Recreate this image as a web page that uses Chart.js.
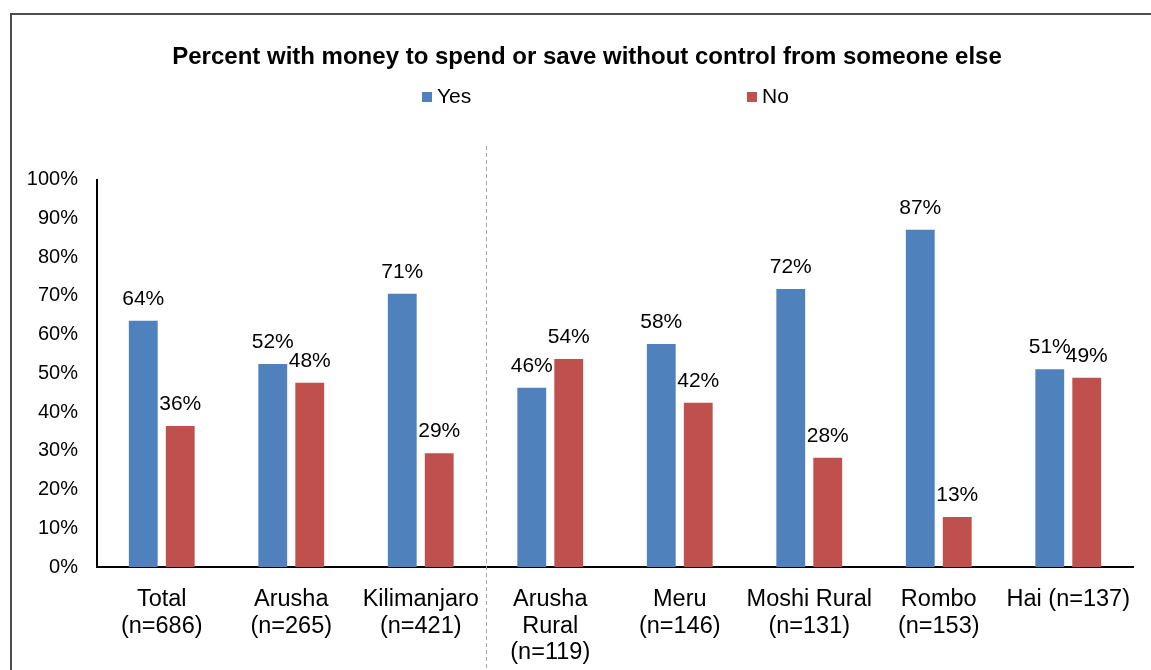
<!DOCTYPE html>
<html>
<head>
<meta charset="utf-8">
<script src="https://cdn.jsdelivr.net/npm/chart.js@4/dist/chart.umd.min.js"></script>
<style>
html,body{margin:0;padding:0;background:#fff;}
#wrap{position:relative;width:1151px;height:670px;}
</style>
</head>
<body>
<div id="wrap"><canvas id="c" width="1151" height="670"></canvas></div>
<script>
const categories = [
  ["Total", "(n=686)"],
  ["Arusha", "(n=265)"],
  ["Kilimanjaro", "(n=421)"],
  ["Arusha", "Rural", "(n=119)"],
  ["Meru", "(n=146)"],
  ["Moshi Rural", "(n=131)"],
  ["Rombo", "(n=153)"],
  ["Hai (n=137)"]
];
const yesValues = [63.6, 52.4, 70.6, 46.3, 57.6, 71.8, 87.1, 51.1];
const noValues  = [36.4, 47.6, 29.4, 53.7, 42.4, 28.2, 12.9, 48.9];
const seriesNames = ["Yes", "No"];
const yTickValues = [0, 10, 20, 30, 40, 50, 60, 70, 80, 90, 100];
const titleText = "Percent with money to spend or save without control from someone else";

const FONT = "'Liberation Sans', Arial, sans-serif";
const colors = ["#4F81BD", "#C0504D"];

const framePlugin = {
  id: 'frame',
  afterLayout(chart) {
    // Excel centres the title within the outer frame, slightly right of canvas centre
    if (chart.titleBlock) { chart.titleBlock.left = 41; chart.titleBlock.right = 1133; }
  },
  beforeDraw(chart) {
    const ctx = chart.ctx;
    ctx.save();
    ctx.strokeStyle = '#4d4d4d';
    ctx.lineWidth = 2;
    ctx.beginPath();
    ctx.moveTo(11, 670);
    ctx.lineTo(11, 14);
    ctx.lineTo(1151, 14);
    ctx.stroke();
    ctx.restore();
  }
};

const dividerPlugin = {
  id: 'divider',
  afterDatasetsDraw(chart) {
    const x = chart.scales.x;
    const px = Math.round((x.getPixelForValue(2) + x.getPixelForValue(3)) / 2) + 0.5;
    const ctx = chart.ctx;
    ctx.save();
    ctx.strokeStyle = '#a6a6a6';
    ctx.lineWidth = 1;
    ctx.setLineDash([4, 3]);
    ctx.beginPath();
    ctx.moveTo(px, 146);
    ctx.lineTo(px, 670);
    ctx.stroke();
    ctx.restore();
  }
};

const legendPlugin = {
  id: 'manualLegend',
  afterDraw(chart) {
    const ctx = chart.ctx;
    const positions = [422, 747];
    ctx.save();
    ctx.font = "21px " + FONT;
    ctx.textBaseline = 'middle';
    ctx.textAlign = 'left';
    chart.data.datasets.forEach((ds, i) => {
      const x = positions[i];
      ctx.fillStyle = ds.backgroundColor;
      ctx.fillRect(x, 92, 10, 10);
      ctx.fillStyle = '#000';
      ctx.fillText(ds.label, x + 15, 97);
    });
    ctx.restore();
  }
};

const labelPlugin = {
  id: 'valueLabels',
  afterDatasetsDraw(chart) {
    const ctx = chart.ctx;
    ctx.save();
    ctx.font = "21px " + FONT;
    ctx.fillStyle = '#000';
    ctx.textAlign = 'center';
    ctx.textBaseline = 'alphabetic';
    chart.data.datasets.forEach((ds, i) => {
      const meta = chart.getDatasetMeta(i);
      meta.data.forEach((bar, j) => {
        ctx.fillText(Math.round(ds.data[j]) + '%', bar.x, bar.y - 16);
      });
    });
    ctx.restore();
  }
};

new Chart(document.getElementById('c'), {
  type: 'bar',
  data: {
    labels: categories,
    datasets: [
      { label: seriesNames[0], data: yesValues, backgroundColor: colors[0] },
      { label: seriesNames[1], data: noValues, backgroundColor: colors[1] }
    ]
  },
  options: {
    responsive: false,
    animation: false,
    devicePixelRatio: 1,
    layout: { padding: { left: 20, right: 18, top: 0, bottom: 0 } },
    datasets: { bar: { categoryPercentage: 0.571, barPercentage: 0.78 } },
    plugins: {
      legend: { display: false },
      tooltip: { enabled: false },
      title: {
        display: true,
        text: titleText,
        color: '#000',
        font: { family: FONT, size: 24, weight: 'bold', lineHeight: 1.2 },
        padding: { top: 43, bottom: 108 }
      }
    },
    scales: {
      x: {
        grid: { display: false, drawTicks: false },
        border: { display: true, color: '#000', width: 2 },
        ticks: {
          color: '#000',
          padding: 19,
          maxRotation: 0,
          autoSkip: false,
          font: { family: FONT, size: 23.5, lineHeight: 1.14 }
        },
        afterFit(s) { s.height = 103; }
      },
      y: {
        min: 0, max: 100,
        grid: { display: false, drawTicks: false },
        border: { display: true, color: '#000', width: 2 },
        afterBuildTicks(s) { s.ticks = yTickValues.map(v => ({ value: v })); },
        ticks: {
          color: '#000',
          padding: 19,
          font: { family: FONT, size: 20 },
          callback: v => v + '%'
        },
        afterFit(s) { s.width = 77; }
      }
    }
  },
  plugins: [framePlugin, dividerPlugin, labelPlugin, legendPlugin]
});
</script>
</body>
</html>
